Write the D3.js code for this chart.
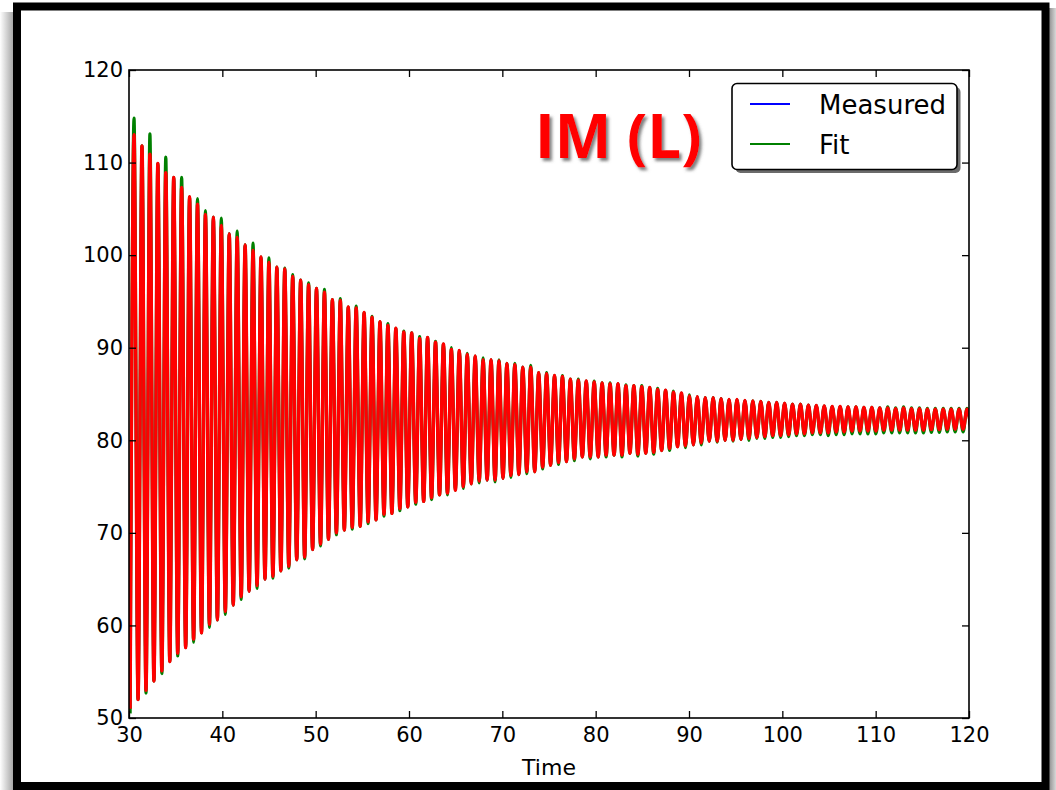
<!DOCTYPE html>
<html>
<head>
<meta charset="utf-8">
<script src="https://cdn.jsdelivr.net/npm/d3@7"></script>
<style>
  html, body { margin: 0; padding: 0; background: #fff; }
  svg { display: block; }
</style>
</head>
<body>
<svg id="chart" width="1056" height="790"></svg>
<script>
// ---------------- DATA ----------------
const xTicks = [30, 40, 50, 60, 70, 80, 90, 100, 110, 120];
const yTicks = [50, 60, 70, 80, 90, 100, 110, 120];
const legendLabels = ["Measured", "Fit"];
const annotation = "IM (L)";
const xLabel = "Time";

// times of the local maxima
const peakTimes = [
  30.54, 31.39, 32.24, 33.09, 33.94, 34.79, 35.64, 36.49, 37.34, 38.19,
  39.04, 39.89, 40.74, 41.59, 42.44, 43.29, 44.14, 44.99, 45.84, 46.69,
  47.54, 48.39, 49.24, 50.09, 50.94, 51.79, 52.64, 53.49, 54.34, 55.19,
  56.04, 56.89, 57.74, 58.59, 59.44, 60.29, 61.14, 61.99, 62.84, 63.69,
  64.54, 65.39, 66.24, 67.09, 67.94, 68.79, 69.64, 70.49, 71.34, 72.19,
  73.04, 73.89, 74.74, 75.59, 76.44, 77.29, 78.14, 78.99, 79.84, 80.69,
  81.54, 82.39, 83.24, 84.09, 84.94, 85.79, 86.64, 87.49, 88.34, 89.19,
  90.04, 90.89, 91.74, 92.59, 93.44, 94.29, 95.14, 95.99, 96.84, 97.69,
  98.54, 99.39, 100.24, 101.09, 101.94, 102.79, 103.64, 104.49, 105.34, 106.19,
  107.04, 107.89, 108.74, 109.59, 110.44, 111.29, 112.14, 112.99, 113.84, 114.69,
  115.54, 116.39, 117.24, 118.09, 118.94, 119.79
];
// times of the local minima
const troughTimes = [
  30.12, 30.97, 31.82, 32.67, 33.52, 34.37, 35.22, 36.07, 36.92, 37.77,
  38.62, 39.47, 40.32, 41.17, 42.02, 42.87, 43.72, 44.57, 45.42, 46.27,
  47.12, 47.97, 48.82, 49.67, 50.52, 51.37, 52.22, 53.07, 53.92, 54.77,
  55.62, 56.47, 57.32, 58.17, 59.02, 59.87, 60.72, 61.57, 62.42, 63.27,
  64.12, 64.97, 65.82, 66.67, 67.52, 68.37, 69.22, 70.07, 70.92, 71.77,
  72.62, 73.47, 74.32, 75.17, 76.02, 76.87, 77.72, 78.57, 79.42, 80.27,
  81.12, 81.97, 82.82, 83.67, 84.52, 85.37, 86.22, 87.07, 87.92, 88.77,
  89.62, 90.47, 91.32, 92.17, 93.02, 93.87, 94.72, 95.57, 96.42, 97.27,
  98.12, 98.97, 99.82, 100.67, 101.52, 102.37, 103.22, 104.07, 104.92, 105.77,
  106.62, 107.47, 108.32, 109.17, 110.02, 110.87, 111.72, 112.57, 113.42, 114.27,
  115.12, 115.97, 116.82, 117.67, 118.52, 119.37, 120.22
];

// measured signal (red overlay / blue) — peak and trough values
const measuredPeaks = [
  113.0, 111.8, 110.9, 109.9, 108.9, 108.4, 107.3, 106.3, 105.5, 104.4,
  104.1, 103.2, 102.3, 101.9, 101.1, 100.5, 99.8, 99.2, 98.7, 98.5,
  97.7, 97.3, 96.8, 96.4, 96.0, 95.2, 95.1, 94.4, 94.3, 93.8,
  93.3, 92.8, 92.4, 92.1, 91.7, 91.6, 91.0, 91.1, 90.6, 90.4,
  89.8, 89.7, 89.3, 89.1, 88.7, 88.7, 88.6, 88.3, 88.2, 87.9,
  87.9, 87.3, 87.2, 87.0, 86.9, 86.6, 86.5, 86.4, 86.3, 86.2,
  86.1, 86.1, 85.9, 85.9, 85.8, 85.7, 85.5, 85.4, 85.2, 85.1,
  84.8, 84.7, 84.6, 84.6, 84.5, 84.4, 84.4, 84.3, 84.25, 84.2,
  84.1, 84.1, 84.0, 83.9, 83.9, 83.8, 83.75, 83.7, 83.65, 83.65,
  83.6, 83.6, 83.55, 83.55, 83.5, 83.5, 83.4, 83.5, 83.4, 83.4,
  83.35, 83.35, 83.35, 83.35, 83.35, 83.35
];
const measuredTroughs = [
  51.0, 52.0, 53.0, 54.0, 55.1, 56.1, 57.0, 57.6, 58.5, 59.2,
  60.1, 60.6, 61.5, 62.2, 63.1, 63.7, 64.3, 65.0, 65.3, 65.9,
  66.4, 67.1, 67.4, 68.2, 68.8, 69.3, 70.0, 70.3, 70.6, 70.7,
  71.2, 71.4, 72.0, 72.1, 72.6, 72.8, 73.3, 73.4, 73.8, 74.1,
  74.3, 74.6, 75.0, 75.3, 75.6, 75.7, 75.7, 75.9, 76.2, 76.3,
  76.6, 76.6, 77.1, 77.3, 77.6, 77.7, 78.0, 78.2, 78.2, 78.2,
  78.4, 78.4, 78.4, 78.6, 78.5, 78.6, 78.7, 78.9, 79.1, 79.3,
  79.4, 79.5, 79.7, 79.9, 79.9, 80.0, 80.0, 80.1, 80.2, 80.3,
  80.4, 80.5, 80.5, 80.6, 80.7, 80.7, 80.8, 80.8, 80.8, 80.9,
  80.9, 81.0, 81.0, 81.0, 81.0, 81.1, 81.1, 81.1, 81.1, 81.1,
  81.1, 81.15, 81.15, 81.2, 81.2, 81.2, 81.2
];

// fitted curve (green) — peak and trough values
const fitPeaks = [
  114.8, 111.8, 113.1, 109.9, 110.6, 108.4, 108.4, 106.3, 106.1, 104.8,
  104.1, 104.0, 102.3, 102.6, 101.1, 101.3, 99.8, 99.7, 98.7, 98.6,
  97.9, 97.3, 97.0, 96.4, 96.3, 95.2, 95.3, 94.4, 94.5, 93.8,
  93.4, 92.8, 92.6, 92.1, 91.8, 91.6, 91.2, 91.1, 90.7, 90.4,
  90.0, 89.7, 89.4, 89.1, 88.9, 88.7, 88.7, 88.3, 88.3, 87.9,
  88.1, 87.3, 87.3, 87.0, 87.0, 86.6, 86.6, 86.4, 86.4, 86.2,
  86.2, 86.1, 86.0, 85.9, 85.9, 85.7, 85.6, 85.4, 85.3, 85.1,
  84.9, 84.7, 84.6, 84.6, 84.5, 84.4, 84.4, 84.3, 84.25, 84.2,
  84.1, 84.1, 84.0, 83.9, 83.9, 83.8, 83.75, 83.7, 83.65, 83.65,
  83.6, 83.6, 83.55, 83.55, 83.5, 83.6, 83.5, 83.6, 83.5, 83.5,
  83.45, 83.45, 83.45, 83.45, 83.45, 83.45
];
const fitTroughs = [
  50.5, 52.0, 52.7, 54.0, 54.8, 56.1, 56.7, 57.6, 58.2, 59.2,
  59.8, 60.6, 61.2, 62.2, 62.8, 63.7, 64.0, 65.0, 65.1, 65.9,
  66.2, 67.1, 67.2, 68.2, 68.6, 69.3, 69.8, 70.3, 70.4, 70.7,
  71.0, 71.4, 71.8, 72.1, 72.4, 72.8, 73.1, 73.4, 73.6, 74.1,
  74.1, 74.6, 74.8, 75.3, 75.4, 75.7, 75.5, 75.9, 76.0, 76.3,
  76.4, 76.6, 76.9, 77.3, 77.4, 77.7, 77.8, 78.2, 78.0, 78.2,
  78.2, 78.4, 78.2, 78.6, 78.3, 78.6, 78.5, 78.9, 78.9, 79.3,
  79.2, 79.5, 79.5, 79.9, 79.8, 80.0, 79.9, 80.1, 80.0, 80.2,
  80.2, 80.3, 80.3, 80.4, 80.5, 80.5, 80.6, 80.6, 80.5, 80.6,
  80.6, 80.7, 80.7, 80.7, 80.7, 80.8, 80.8, 80.8, 80.8, 80.8,
  80.8, 80.85, 80.85, 80.9, 80.9, 80.9, 80.9
];

// ---------------- CHART ----------------
const svg = d3.select("#chart");
const W = 1056, H = 790;
const plot = { left: 129, right: 969, top: 70, bottom: 718 };

const defs = svg.append("defs");

// page decoration: frame and shadows
const lg = defs.append("linearGradient").attr("id", "leftShade").attr("x1", 0).attr("x2", 1);
lg.append("stop").attr("offset", "0%").attr("stop-color", "#ffffff");
lg.append("stop").attr("offset", "100%").attr("stop-color", "#a8a8a8");
const rg = defs.append("linearGradient").attr("id", "rightShade").attr("x1", 0).attr("x2", 1);
rg.append("stop").attr("offset", "0%").attr("stop-color", "#8f8f8f");
rg.append("stop").attr("offset", "100%").attr("stop-color", "#d8d8d8");

svg.append("rect").attr("x", 0).attr("y", 0).attr("width", W).attr("height", H).attr("fill", "#fff");
svg.append("rect").attr("x", 0).attr("y", 12).attr("width", 13).attr("height", H - 12).attr("fill", "url(#leftShade)");
svg.append("rect").attr("x", 1049).attr("y", 8).attr("width", 7).attr("height", H - 8).attr("fill", "url(#rightShade)");
svg.append("rect")
  .attr("x", 17).attr("y", 6.5).attr("width", 1028.5).attr("height", 779.5)
  .attr("fill", "#fff").attr("stroke", "#000").attr("stroke-width", 8);

const x = d3.scaleLinear().domain([30, 120]).range([plot.left, plot.right]);
const y = d3.scaleLinear().domain([50, 120]).range([plot.bottom, plot.top]);

defs.append("clipPath").attr("id", "plotClip")
  .append("rect")
  .attr("x", plot.left).attr("y", plot.top)
  .attr("width", plot.right - plot.left).attr("height", plot.bottom - plot.top);

function buildSeries(peaks, troughs) {
  const pts = [];
  troughTimes.forEach((t, i) => pts.push({ t: t, v: troughs[i] }));
  peakTimes.forEach((t, i) => pts.push({ t: t, v: peaks[i] }));
  pts.sort((a, b) => a.t - b.t);
  return pts;
}
const measured = buildSeries(measuredPeaks, measuredTroughs);
const fit = buildSeries(fitPeaks, fitTroughs);

const line = d3.line()
  .x(d => x(d.t))
  .y(d => y(d.v))
  .curve(d3.curveMonotoneX);

const lines = svg.append("g").attr("clip-path", "url(#plotClip)");
lines.append("path").datum(measured).attr("d", line)
  .attr("fill", "none").attr("stroke", "#0000ff").attr("stroke-width", 2.6)
  .attr("stroke-linejoin", "round");
lines.append("path").datum(fit).attr("d", line)
  .attr("fill", "none").attr("stroke", "#008000").attr("stroke-width", 3.2)
  .attr("stroke-linejoin", "round");
lines.append("path").datum(measured).attr("d", line)
  .attr("fill", "none").attr("stroke", "#ff0000").attr("stroke-width", 3.4)
  .attr("stroke-linejoin", "round");

// axes (ticks inward on all four sides, matplotlib classic look)
const fontFam = "'DejaVu Sans', sans-serif";
function styleAxis(g) {
  g.select(".domain").remove();
  g.selectAll(".tick line").attr("stroke", "#000").attr("stroke-width", 1.3);
  g.selectAll(".tick text").attr("fill", "#000").attr("font-family", fontFam).attr("font-size", 21);
}
svg.append("g").attr("transform", `translate(0,${plot.bottom})`)
  .call(d3.axisBottom(x).tickValues(xTicks).tickSize(-7).tickPadding(9).tickFormat(d3.format("d")))
  .call(styleAxis);
svg.append("g").attr("transform", `translate(0,${plot.top})`)
  .call(d3.axisTop(x).tickValues(xTicks).tickSize(-7).tickFormat(""))
  .call(styleAxis);
svg.append("g").attr("transform", `translate(${plot.left},0)`)
  .call(d3.axisLeft(y).tickValues(yTicks).tickSize(-7).tickPadding(6).tickFormat(d3.format("d")))
  .call(styleAxis);
svg.append("g").attr("transform", `translate(${plot.right},0)`)
  .call(d3.axisRight(y).tickValues(yTicks).tickSize(-7).tickFormat(""))
  .call(styleAxis);

svg.append("rect")
  .attr("x", plot.left).attr("y", plot.top)
  .attr("width", plot.right - plot.left).attr("height", plot.bottom - plot.top)
  .attr("fill", "none").attr("stroke", "#000").attr("stroke-width", 1.6);

svg.append("text")
  .attr("x", (plot.left + plot.right) / 2).attr("y", 775)
  .attr("text-anchor", "middle")
  .attr("font-family", fontFam).attr("font-size", 22).attr("fill", "#000")
  .text(xLabel);

// annotation with drop shadow
const f = defs.append("filter").attr("id", "txtShadow")
  .attr("x", "-10%").attr("y", "-20%").attr("width", "130%").attr("height", "150%");
f.append("feDropShadow").attr("dx", 2.5).attr("dy", 3).attr("stdDeviation", 1.8)
  .attr("flood-color", "#555").attr("flood-opacity", 0.75);
svg.append("text")
  .attr("x", 535).attr("y", 157.5)
  .attr("font-family", "'Open Sans', 'Liberation Sans', sans-serif")
  .attr("font-weight", "bold").attr("font-size", 60)
  .attr("fill", "#ff0000").attr("filter", "url(#txtShadow)")
  .text(annotation);

// legend
const legend = svg.append("g");
legend.append("rect")
  .attr("x", 735.5).attr("y", 87).attr("width", 225).attr("height", 86).attr("rx", 5)
  .attr("fill", "#3a3a3a").attr("opacity", 0.75);
legend.append("rect")
  .attr("x", 732).attr("y", 83.5).attr("width", 225).attr("height", 86).attr("rx", 5)
  .attr("fill", "#fff").attr("stroke", "#000").attr("stroke-width", 1.6);
const legendColors = ["#0000ff", "#008000"];
const legendY = [104, 144];
legendLabels.forEach((lab, i) => {
  legend.append("line")
    .attr("x1", 750).attr("x2", 790).attr("y1", legendY[i]).attr("y2", legendY[i])
    .attr("stroke", legendColors[i]).attr("stroke-width", 2);
  legend.append("text")
    .attr("x", 819).attr("y", legendY[i] + 10)
    .attr("font-family", fontFam).attr("font-size", 26).attr("fill", "#000")
    .text(lab);
});
</script>
</body>
</html>
